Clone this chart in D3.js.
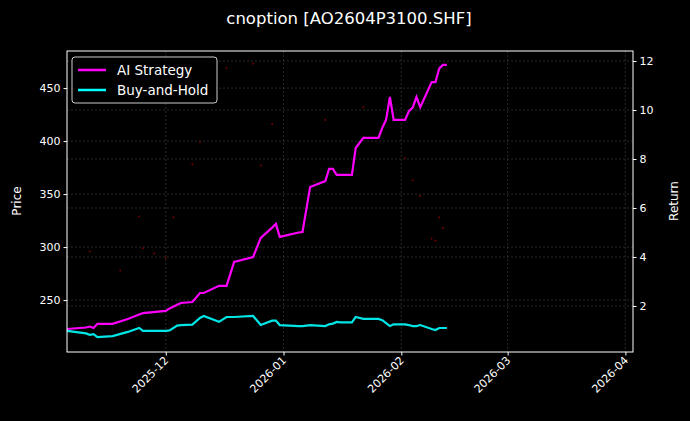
<!DOCTYPE html>
<html>
<head>
<meta charset="utf-8">
<script src="https://cdn.jsdelivr.net/npm/d3@7"></script>
<style>
  body { margin: 0; background: #000; }
  text { font-family: "DejaVu Sans", sans-serif; fill: #fff; }
</style>
</head>
<body>
<svg id="chart" width="690" height="421"></svg>
<script>
const dates = ['2025-11-05','2025-11-10','2025-11-11','2025-11-12','2025-11-13','2025-11-17','2025-11-21','2025-11-24','2025-11-25',
  '2025-12-01','2025-12-02','2025-12-04','2025-12-05','2025-12-08','2025-12-10','2025-12-11','2025-12-15','2025-12-17','2025-12-19',
  '2025-12-24','2025-12-26','2025-12-29','2025-12-30','2025-12-31','2026-01-05','2026-01-06','2026-01-08','2026-01-12','2026-01-13',
  '2026-01-14','2026-01-15','2026-01-16','2026-01-19','2026-01-20','2026-01-22','2026-01-26','2026-01-27','2026-01-28','2026-01-29',
  '2026-01-30','2026-02-02','2026-02-03','2026-02-04','2026-02-05','2026-02-06','2026-02-09','2026-02-10','2026-02-11','2026-02-12','2026-02-13'];
const aiReturn = [1.06,1.12,1.16,1.1,1.27,1.27,1.47,1.65,1.71,
  1.8,1.9,2.05,2.12,2.16,2.53,2.53,2.82,2.82,3.8,
  4.0,4.78,5.2,5.35,4.82,5.0,5.02,6.86,7.1,7.6,
  7.6,7.35,7.35,7.35,8.45,8.86,8.86,9.27,9.6,10.53,
  9.6,9.6,9.95,10.1,10.53,10.12,11.14,11.14,11.7,11.84,11.84];
const holdReturn = [0.98,0.88,0.82,0.85,0.73,0.77,0.94,1.1,0.98,
  0.98,1.0,1.2,1.22,1.24,1.51,1.59,1.35,1.55,1.55,
  1.59,1.22,1.4,1.4,1.22,1.18,1.18,1.22,1.18,1.25,
  1.28,1.35,1.33,1.33,1.55,1.47,1.47,1.42,1.3,1.18,
  1.25,1.25,1.22,1.18,1.18,1.22,1.06,1.02,1.1,1.1,1.1];
const priceDates = ['2025-11-11','2025-11-19','2025-11-24','2025-11-25','2025-11-28','2025-12-01','2025-12-03','2025-12-08','2025-12-10',
  '2025-12-17','2025-12-24','2025-12-26','2025-12-29','2026-01-06','2026-01-09','2026-01-12','2026-01-22','2026-01-29','2026-02-02',
  '2026-02-04','2026-02-06','2026-02-09','2026-02-10','2026-02-11','2026-02-12'];
const prices = [296,278,329,299,294,290,328,378,399,469,473,377,416,315,362,420,432,439,384,363,348,308,306,328,318];
const priceTicks = [250,300,350,400,450];
const returnTicks = [2,4,6,8,10,12];
const monthTicks = ['2025-12-01','2026-01-01','2026-02-01','2026-03-01','2026-04-01'];

const parse = d3.timeParse('%Y-%m-%d');
const svg = d3.select('#chart');
const m = { left: 67, right: 633, top: 51, bottom: 352 };

const x = d3.scaleTime().domain([parse('2025-11-05'), parse('2026-04-03')]).range([m.left, m.right]);
const yP = d3.scaleLinear().domain([201, 485]).range([m.bottom, m.top]);
const yR = d3.scaleLinear().domain([0.12, 12.41]).range([m.bottom, m.top]);

svg.append('rect').attr('width', 690).attr('height', 421).attr('fill', '#000');

const grid = svg.append('g').attr('stroke', '#444').attr('stroke-dasharray', '2,2').attr('stroke-width', 0.6);
monthTicks.forEach(t => grid.append('line').attr('x1', x(parse(t))).attr('x2', x(parse(t))).attr('y1', m.top).attr('y2', m.bottom));
priceTicks.forEach(t => grid.append('line').attr('x1', m.left).attr('x2', m.right).attr('y1', yP(t)).attr('y2', yP(t)));
returnTicks.forEach(t => grid.append('line').attr('x1', m.left).attr('x2', m.right).attr('y1', yR(t)).attr('y2', yR(t)));

svg.append('g').selectAll('circle').data(priceDates).join('circle')
  .attr('cx', d => x(parse(d))).attr('cy', (d, i) => yP(prices[i])).attr('r', 0.9)
  .attr('fill', '#b00').attr('opacity', 0.7);

const line = yScale => d3.line().x((d, i) => x(parse(dates[i]))).y(d => yScale(d));
svg.append('path').datum(aiReturn).attr('d', line(yR)).attr('fill', 'none').attr('stroke', '#ff00ff').attr('stroke-width', 2.2);
svg.append('path').datum(holdReturn).attr('d', line(yR)).attr('fill', 'none').attr('stroke', '#00ffff').attr('stroke-width', 2.2).attr('opacity', 0.9);

const styleAxis = g => {
  g.select('.domain').remove();
  g.selectAll('line').attr('stroke', '#fff');
  g.selectAll('text').attr('fill', '#fff').style('font-size', '11px').style('font-family', 'DejaVu Sans');
};
svg.append('g').attr('transform', `translate(${m.left},0)`)
  .call(d3.axisLeft(yP).tickValues(priceTicks).tickSize(3.5).tickPadding(3)).call(styleAxis);
svg.append('g').attr('transform', `translate(${m.right},0)`)
  .call(d3.axisRight(yR).tickValues(returnTicks).tickSize(3.5).tickPadding(3)).call(styleAxis);
const xa = svg.append('g').attr('transform', `translate(0,${m.bottom})`)
  .call(d3.axisBottom(x).tickValues(monthTicks.map(parse)).tickFormat(d3.timeFormat('%Y-%m')).tickSize(3.5)).call(styleAxis);
xa.selectAll('text').attr('text-anchor', 'end').attr('y', 0).attr('dy', 0)
  .attr('transform', 'translate(3,9) rotate(-45)');

svg.append('rect').attr('x', m.left).attr('y', m.top).attr('width', m.right - m.left).attr('height', m.bottom - m.top)
  .attr('fill', 'none').attr('stroke', '#fff').attr('stroke-width', 1);

svg.append('text').attr('x', 349).attr('y', 24).attr('text-anchor', 'middle').style('font-size', '16.5px').text('cnoption [AO2604P3100.SHF]');
svg.append('text').attr('transform', 'translate(21,201) rotate(-90)').attr('text-anchor', 'middle').style('font-size', '12px').text('Price');
svg.append('text').attr('transform', 'translate(678,201) rotate(-90)').attr('text-anchor', 'middle').style('font-size', '12px').text('Return');

const lg = svg.append('g').attr('transform', 'translate(72,57)');
lg.append('rect').attr('width', 145).attr('height', 46).attr('rx', 3).attr('fill', '#000').attr('fill-opacity', 0.8).attr('stroke', '#ccc');
[['AI Strategy', '#ff00ff'], ['Buy-and-Hold', '#00ffff']].forEach(([name, c], i) => {
  const yy = 13 + i * 20;
  lg.append('line').attr('x1', 6).attr('x2', 34).attr('y1', yy).attr('y2', yy).attr('stroke', c).attr('stroke-width', 2.5);
  lg.append('text').attr('x', 45).attr('y', yy + 5).style('font-size', '13.5px').text(name);
});
</script>
</body>
</html>
